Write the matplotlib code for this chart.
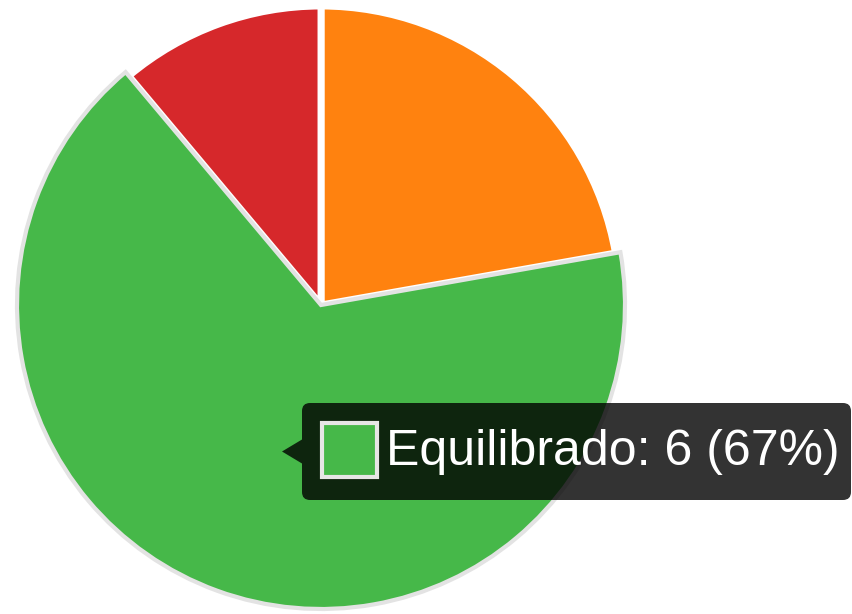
import matplotlib.pyplot as plt
from matplotlib.patches import FancyBboxPatch, Polygon, Rectangle

# data
labels = ["Agresivo", "Equilibrado", "Conservador"]
values = [2, 6, 1]
colors = ["#ff820f", "#46b849", "#d6282b"]
hovered = 1

W, H = 853, 614
fig = plt.figure(figsize=(W / 100, H / 100), dpi=100, facecolor="white")
ax = fig.add_axes([0, 0, 1, 1])

cx, cy = 321, H - 305
r = 299

wedges, _ = ax.pie(values, colors=colors, startangle=90, counterclock=False,
                   radius=r, center=(cx, cy), frame=True,
                   wedgeprops=dict(edgecolor="white", linewidth=5))
ax.set_xlim(0, W)
ax.set_ylim(0, H)
ax.set_aspect("equal")
ax.axis("off")

# hovered slice grows a bit and gets a grey border
hw = wedges[hovered]
hw.set_radius(r + 5)
hw.set_edgecolor("#e3e3e3")
hw.set_linewidth(3)
hw.set_zorder(3)

# tooltip
tx0, tx1 = 302, 851
ty0, ty1 = H - 500, H - 403
box = FancyBboxPatch((tx0 + 8, ty0 + 8), tx1 - tx0 - 16, ty1 - ty0 - 16,
                     boxstyle="round,pad=8", facecolor=(0, 0, 0, 0.8),
                     edgecolor="none", zorder=5)
ax.add_patch(box)
ym = (ty0 + ty1) / 2
ax.add_patch(Polygon([(tx0, ym + 12), (282, ym), (tx0, ym - 12)],
                     closed=True, facecolor=(0, 0, 0, 0.8), edgecolor="none",
                     zorder=5))
ax.add_patch(Rectangle((322, H - 477), 55, 54, facecolor=colors[hovered],
                       edgecolor="#e6e6e6", linewidth=3, zorder=6))
ax.text(386, H - 465, f"{labels[hovered]}: {values[hovered]} "
        f"({round(100 * values[hovered] / sum(values))}%)",
        color="white", fontsize=36, family="Liberation Sans",
        va="baseline", ha="left", zorder=7)

fig.savefig("out.png", dpi=100, facecolor="white")
